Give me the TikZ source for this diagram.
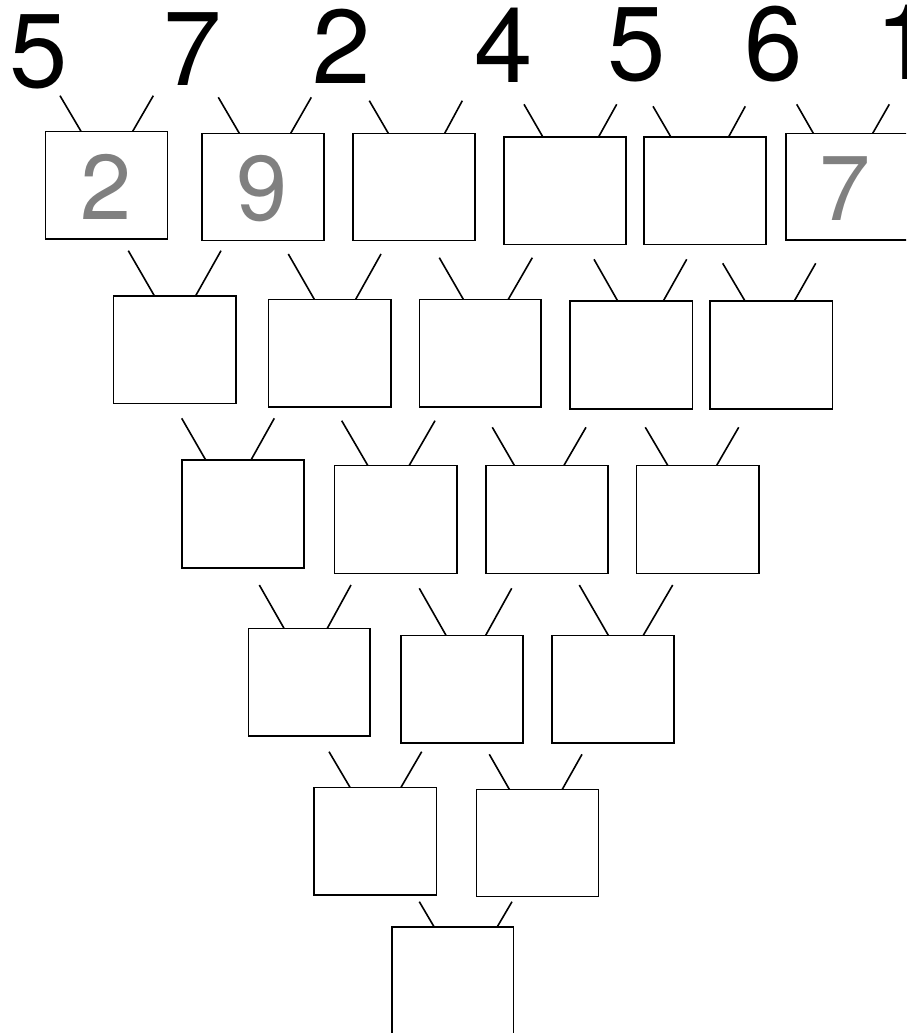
\documentclass[tikz,border=0pt]{standalone}
\usepackage{fontspec}
\setmainfont{TeX Gyre Heros}
\definecolor{numgray}{RGB}{128,128,128}
\tikzset{
  tvbox/.style={draw=black, line width=1.6pt, rectangle, inner sep=0pt, outer sep=0pt},
  stub/.style={draw=black, line width=1.6pt},
  topnum/.style={anchor=base, inner sep=0pt, font=\fontsize{105}{110}\selectfont, text=black},
  innum/.style={anchor=base, inner sep=0pt, font=\fontsize{92}{96}\selectfont, text=numgray}
}
\newcommand\tv[5]{%
  \node[tvbox, minimum width={#4pt-#2pt}, minimum height={#5pt-#3pt}] (#1) at ({(#2+#4)/2},{(#3+#5)/2}) {};}
\newcommand\stub[5]{%
  \coordinate (#1#2top) at (#3,#4);
  \coordinate (#1#2x) at (#5,0);
  \draw[stub] (#1#2top) -- (#1#2x |- #1.north);}
\begin{document}
\begin{tikzpicture}[x=1pt,y=-1pt]
\clip (0,0) rectangle (906,1033);
\useasboundingbox (0,0) rectangle (906,1033);
% top numbers
\node[topnum] (n1) at (39,87) {5};
\node[topnum] (n2) at (193,85) {7};
\node[topnum] (n3) at (342,83) {2};
\node[topnum] (n4) at (503.5,82) {4};
\node[topnum] (n5) at (637,81) {5};
\node[topnum] (n6) at (773.5,81) {6};
\node[topnum] (n7) at (904.7,80) {1};
% row 1
\tv{b11}{45.3}{131.3}{167.3}{238.7}
\tv{b12}{202}{133.3}{324}{240.3}
\tv{b13}{353}{133.3}{475}{240.3}
\tv{b14}{503.7}{136.7}{626}{244.3}
\tv{b15}{644}{136.7}{766}{244.3}
\tv{b16}{785.7}{133.3}{907.7}{240}
\stub{b11}{l}{60}{95.7}{81}      \stub{b11}{r}{153.3}{95.7}{132.7}
\stub{b12}{l}{218.3}{97.3}{239.3} \stub{b12}{r}{311.3}{97.3}{290.7}
\stub{b13}{l}{369.3}{100.7}{388.3} \stub{b13}{r}{462.3}{100.7}{444.7}
\stub{b14}{l}{524}{104.3}{542.7}  \stub{b14}{r}{616.7}{104.3}{598.7}
\stub{b15}{l}{653}{106.3}{670.7}  \stub{b15}{r}{745.3}{106.3}{728.7}
\stub{b16}{l}{796.7}{104.3}{813.3} \stub{b16}{r}{889.3}{104.3}{872.7}
\node[innum] (g1) at (106.5,219.5) {2};
\node[innum] (g2) at (262.5,220) {9};
\node[innum] (g3) at (844.7,220) {7};
% row 2
\tv{b21}{113.3}{295.7}{236}{403.3}
\tv{b22}{268.3}{299.3}{390.7}{406.7}
\tv{b23}{419.3}{299.3}{541}{406.7}
\tv{b24}{570}{301}{692.3}{409}
\tv{b25}{710}{301}{832.3}{409}
\stub{b21}{l}{128.3}{250.7}{154.3} \stub{b21}{r}{221}{250.7}{195.7}
\stub{b22}{l}{288.3}{254}{314.3}   \stub{b22}{r}{381}{254}{355.7}
\stub{b23}{l}{439.3}{257.7}{463.3} \stub{b23}{r}{532.3}{257.7}{508.3}
\stub{b24}{l}{594}{259.3}{617.7}   \stub{b24}{r}{686.7}{259.3}{663.3}
\stub{b25}{l}{722.7}{263.3}{745}   \stub{b25}{r}{815.7}{263.3}{794.3}
% row 3
\tv{b31}{181.7}{460}{304}{567.7}
\tv{b32}{334.3}{465.3}{456.7}{573.3}
\tv{b33}{485.7}{465.3}{607.7}{573.3}
\tv{b34}{636.3}{465.3}{758.7}{573.3}
\stub{b31}{l}{181.7}{418.3}{205.7} \stub{b31}{r}{274.3}{418.3}{251}
\stub{b32}{l}{341.7}{420.7}{367.7} \stub{b32}{r}{435}{420.7}{409.3}
\stub{b33}{l}{492.3}{427.3}{514.3} \stub{b33}{r}{586}{427.3}{564}
\stub{b34}{l}{645.3}{427.3}{667.7} \stub{b34}{r}{738.7}{427.3}{716.7}
% row 4
\tv{b41}{248.3}{628.3}{370}{735.7}
\tv{b42}{401}{635.3}{522.7}{742.7}
\tv{b43}{552}{635.3}{673.7}{742.7}
\stub{b41}{l}{259.3}{585}{284}    \stub{b41}{r}{351}{585}{327.3}
\stub{b42}{l}{419.3}{588.3}{446}  \stub{b42}{r}{511.7}{588.3}{485.7}
\stub{b43}{l}{579.3}{585}{608.3}  \stub{b43}{r}{672.7}{585}{643.3}
% row 5
\tv{b51}{314}{787.3}{436.3}{894.7}
\tv{b52}{476.3}{789.3}{598.3}{896.3}
\stub{b51}{l}{329}{751.7}{350}    \stub{b51}{r}{421.7}{751.7}{401}
\stub{b52}{l}{489.3}{754.3}{509.3} \stub{b52}{r}{582}{754.3}{562.3}
% row 6
\tv{b61}{392}{926.7}{513.3}{1040}
\stub{b61}{l}{419.3}{901.7}{434}  \stub{b61}{r}{512}{901.7}{497.3}
\end{tikzpicture}
\end{document}
